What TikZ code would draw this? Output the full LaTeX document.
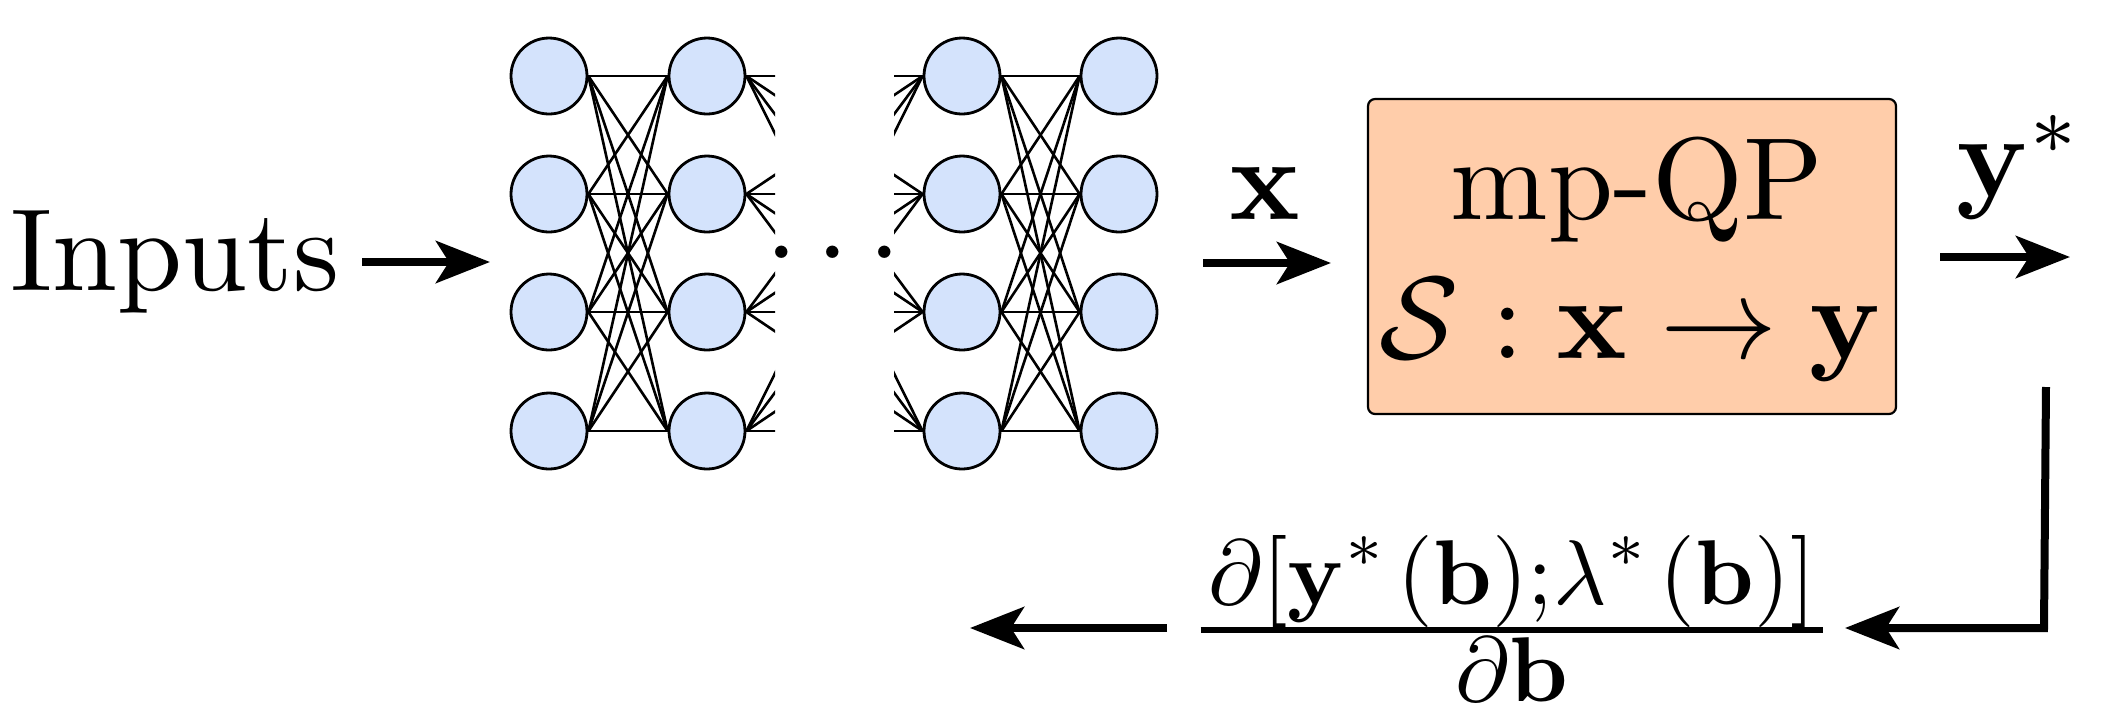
\RequirePackage{fix-cm}
\documentclass[tikz,border=0pt]{standalone}
\usepackage{amsmath}
\usetikzlibrary{arrows.meta}
\definecolor{nnblue}{HTML}{D4E3FC}
\definecolor{qpfill}{HTML}{FFCDAA}
\begin{document}
\begin{tikzpicture}[x=0.1pt,y=-0.1pt,
  neuron/.style={circle,draw,line width=0.28pt,fill=nnblue,minimum size=7.6pt,inner sep=0pt},
  edge/.style={line width=0.26pt},
  bigarrow/.style={line width=0.8pt,line cap=butt,line join=miter,-{Stealth[length=5.4pt,width=4.2pt,inset=1.3pt]}},
  lbl/.style={inner sep=0pt,font=\fontsize{10}{12}\selectfont,scale=1.17,transform shape},
  fraclbl/.style={inner sep=0pt,font=\fontsize{10}{12}\selectfont,scale=0.92,transform shape}]
\useasboundingbox (0,0) rectangle (2126,709);

% neurons
\foreach \c/\x in {1/549,2/707,3/962,4/1119}
  \foreach \r/\y in {1/76,2/194,3/312,4/431}
    \node[neuron] (n\c\r) at (\x,\y) {};

% full connections
\foreach \i in {1,...,4}
  \foreach \j in {1,...,4} {
    \draw[edge] (n1\i.east) -- (n2\j.west);
    \draw[edge] (n3\i.east) -- (n4\j.west);
  }
% partially hidden connections between layer 2 and layer 3
\begin{scope}
  \clip (700,0) rectangle (775,709);
  \foreach \i in {1,...,4}
    \foreach \j in {1,...,4}
      \draw[edge] (n2\i.east) -- (n3\j.west);
\end{scope}
\begin{scope}
  \clip (894,0) rectangle (1000,709);
  \foreach \i in {1,...,4}
    \foreach \j in {1,...,4}
      \draw[edge] (n2\i.east) -- (n3\j.west);
\end{scope}
\node[lbl,anchor=base] (dots) at (843,281) {$\cdots$};

% inputs
\node[lbl,anchor=base west] (inputs) at (8,290) {Inputs};
\coordinate (ia) at (362,262);
\coordinate (ib) at (490,262);
\draw[bigarrow] (ia) -- (ib);

% x arrow
\coordinate (xa) at (1203,263);
\coordinate (xb) at (1331,263);
\draw[bigarrow] (xa) -- (xb);
\node[lbl,anchor=base] (xl) at (1265,219) {$\mathbf{x}$};

% mp-QP box
\node[draw,line width=0.22pt,fill=qpfill,rounded corners=0.7pt,minimum width=52.8pt,minimum height=31.5pt,inner sep=0pt] (qp) at (1632,256.5) {};
\node[lbl,anchor=base] (qp1) at (1637,219) {mp-QP};
\node[lbl,anchor=base] (qp2) at (1631,358) {$\mathcal{S}:\mathbf{x}\rightarrow\mathbf{y}$};

% y* arrow
\coordinate (ya) at (1940,257);
\coordinate (yb) at (2070,257);
\draw[bigarrow] (ya) -- (yb);
\node[lbl,anchor=base west] (yl) at (1954,196) {$\mathbf{y}^*$};

% feedback path
\coordinate (f1) at (2046,387);
\coordinate (f2) at (2044,628);
\coordinate (f3) at (1845,628);
\draw[bigarrow] (f1) -- (f2) -- (f3);

\node[fraclbl,anchor=base] (grad) at (1512,653)
  {$\genfrac{}{}{0.55pt}{1}{\raisebox{-0.5pt}[\height][\depth]{$\displaystyle\mkern1.5mu\partial[\mathbf{y}^*\mkern2mu(\mathbf{b}){;}\lambda^*\mkern2mu(\mathbf{b})]\mkern1.5mu$}}{\raisebox{-0.7pt}[\height][\depth]{$\displaystyle\partial\mathbf{b}$}}$};

\coordinate (ga) at (1167,628);
\coordinate (gb) at (970,628);
\draw[bigarrow] (ga) -- (gb);
\end{tikzpicture}
\end{document}
